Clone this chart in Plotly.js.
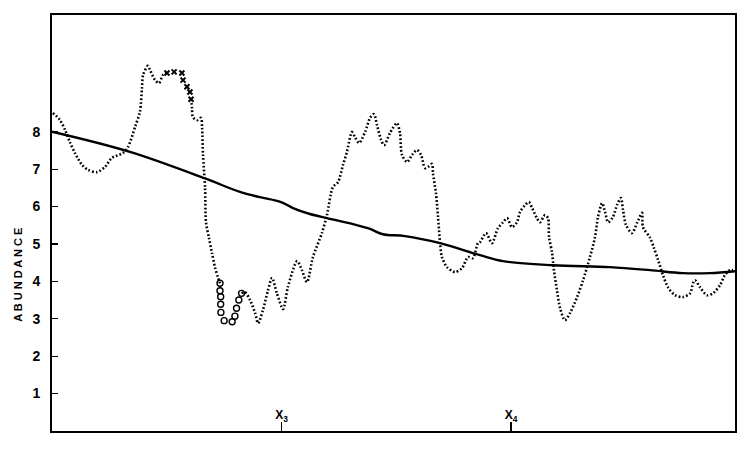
<!DOCTYPE html>
<html>
<head>
<meta charset="utf-8">
<script src="https://cdn.plot.ly/plotly-3.0.1.min.js"></script>
<style>html,body{margin:0;padding:0;background:#fff;}#chart{width:750px;height:453px;}</style>
</head>
<body>
<div id="chart"></div>
<script>
// Dotted abundance curve, segment before the "x" marks
const dotX1 = [0.004,0.035,0.057,0.078,0.100,0.131,0.157,0.196,0.231,0.261,0.309,0.331,0.362,0.383,0.392,0.397,0.418,0.427,0.449,0.466,0.484,0.501];
const dotY1 = [8.50,8.31,8.05,7.72,7.43,7.11,6.98,6.92,7.06,7.30,7.43,7.59,8.13,8.53,9.17,9.52,9.76,9.65,9.38,9.30,9.52,9.57];
// "x" marked points
const crossX = [0.501,0.532,0.566,0.571,0.588,0.601,0.606];
const crossY = [9.57,9.60,9.57,9.38,9.20,9.06,8.87];
// Dotted segment between the "x" marks and the circles
const dotX2 = [0.606,0.610,0.614,0.632,0.649,0.654,0.658,0.667,0.671,0.684,0.697,0.710,0.723,0.732];
const dotY2 = [8.87,8.63,8.39,8.31,8.37,8.10,7.38,6.49,5.58,5.16,4.76,4.38,4.11,3.95];
// "o" marked points
const circX = [0.732,0.732,0.735,0.735,0.736,0.750,0.785,0.797,0.804,0.814,0.826];
const circY = [3.95,3.75,3.59,3.39,3.17,2.95,2.92,3.07,3.28,3.50,3.68];
// Dotted segment after the circles
const dotX3 = [0.826,0.841,0.863,0.885,0.898,0.919,0.941,0.959,0.980,1.007,1.028,1.068,1.089,1.111,1.137,1.176,1.198,1.224,1.246,1.268,1.285,1.307,1.320,1.338,1.364,1.386,1.403,1.416,1.434,1.447,1.473,1.503,1.516,1.525,1.547,1.569,1.590,1.608,1.625,1.638,1.656,1.660,1.673,1.682,1.691,1.699,1.721,1.756,1.786,1.813,1.834,1.856,1.865,1.891,1.917,1.943,1.965,1.983,2.004,2.026,2.039,2.061,2.078,2.092,2.113,2.126,2.148,2.161,2.166,2.179,2.187,2.200,2.214,2.235,2.257,2.288,2.314,2.344,2.366,2.379,2.397,2.410,2.423,2.444,2.462,2.479,2.488,2.501,2.527,2.549,2.571,2.575,2.606,2.623,2.641,2.662,2.684,2.715,2.749,2.780,2.793,2.802,2.824,2.854,2.880,2.911,2.932,2.954,2.967];
const dotY3 = [3.68,3.71,3.50,3.15,2.88,3.23,3.76,4.09,3.68,3.26,3.85,4.54,4.30,3.98,4.65,5.29,5.77,6.52,6.65,7.11,7.46,7.99,7.86,7.70,7.99,8.37,8.47,8.18,7.78,7.64,7.97,8.23,7.97,7.38,7.19,7.38,7.51,7.38,7.03,7.06,7.14,6.89,6.36,5.72,5.02,4.65,4.38,4.25,4.35,4.65,4.62,5.02,5.05,5.29,5.02,5.42,5.58,5.69,5.45,5.58,5.85,6.04,6.12,5.96,5.69,5.58,5.77,5.69,5.18,4.76,4.30,3.77,3.28,2.96,3.15,3.58,4.03,4.65,5.18,5.72,6.09,5.85,5.58,5.72,6.04,6.23,5.91,5.51,5.29,5.56,5.83,5.45,5.16,4.89,4.57,4.17,3.84,3.63,3.58,3.68,3.95,4.03,3.84,3.63,3.68,3.90,4.17,4.30,4.30];
// Smooth trend line
const trendX = [0.000,0.340,0.667,0.819,0.906,0.998,1.050,1.124,1.198,1.312,1.386,1.442,1.538,1.691,1.865,1.965,2.183,2.431,2.606,2.749,2.867,2.976];
const trendY = [8.00,7.46,6.75,6.39,6.25,6.12,5.96,5.80,5.69,5.53,5.40,5.26,5.21,5.02,4.70,4.54,4.43,4.38,4.30,4.22,4.22,4.27];
// Axis ticks
const yTickVals = [1,2,3,4,5,6,7,8];
const xTickVals = [1,2];
const xTickText = ['<b>X</b><sub><b>3</b></sub>','<b>X</b><sub><b>4</b></sub>'];

const dotLine = {color:'#000', width:2.6, dash:'1.7px,2.1px', shape:'spline', smoothing:0.8};
const traces = [
  {x:trendX, y:trendY, mode:'lines', line:{color:'#000', width:2.4, shape:'spline', smoothing:1}, hoverinfo:'skip'},
  {x:dotX1, y:dotY1, mode:'lines', line:dotLine},
  {x:dotX2, y:dotY2, mode:'lines', line:dotLine},
  {x:dotX3, y:dotY3, mode:'lines', line:dotLine},
  {x:crossX, y:crossY, mode:'markers', marker:{symbol:'x-thin-open', size:5, color:'#000', line:{width:2, color:'#000'}}},
  {x:circX, y:circY, mode:'markers', marker:{symbol:'circle-open', size:6, color:'#000', line:{width:1.4, color:'#000'}}}
];

const layout = {
  width:750, height:453,
  margin:{l:52, r:15, t:15, b:22, pad:0},
  paper_bgcolor:'#fff', plot_bgcolor:'#fff',
  showlegend:false,
  font:{family:'Liberation Sans, Arial, sans-serif', color:'#000'},
  xaxis:{range:[0,2.976], showgrid:false, zeroline:false, showline:true, linecolor:'#000', linewidth:2, mirror:true,
    tickmode:'array', tickvals:xTickVals, ticktext:xTickText, ticks:'inside', ticklen:9, tickwidth:1.2, tickcolor:'#000',
    ticklabelposition:'inside', tickfont:{size:12, color:'#000', family:'Liberation Sans, Arial, sans-serif'}, fixedrange:true},
  yaxis:{range:[0,11.12], showgrid:false, zeroline:false, showline:true, linecolor:'#000', linewidth:2, mirror:true,
    tickmode:'array', tickvals:yTickVals, ticks:'inside', ticklen:6, tickwidth:1.2, tickcolor:'#000',
    tickfont:{size:14, color:'#000', weight:'bold', family:'Liberation Sans, Arial, sans-serif'}, ticklabelstandoff:7, fixedrange:true},
  annotations:[
    {text:'<b>A B U N D A N C E</b>', xref:'paper', yref:'paper', x:-0.05, y:0.375, textangle:-90, showarrow:false,
     font:{size:11, family:'Liberation Sans, Arial, sans-serif', color:'#000'}, xanchor:'center', yanchor:'middle'}
  ]
};
Plotly.newPlot('chart', traces, layout, {staticPlot:true, displayModeBar:false});
</script>
</body>
</html>
